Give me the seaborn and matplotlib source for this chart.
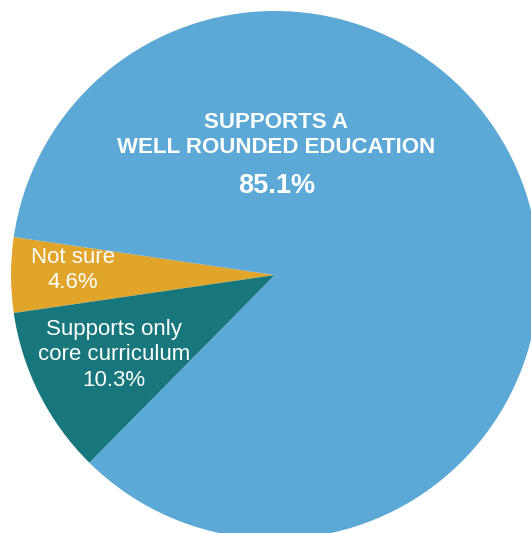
import matplotlib
matplotlib.use("Agg")
import matplotlib.pyplot as plt
import seaborn as sns

sns.set_theme(style="white")
plt.rcParams["font.family"] = ["Liberation Sans", "DejaVu Sans"]

# Survey shares (percent), drawn counter-clockwise from the "Not sure" wedge
categories = ["Not sure", "Supports only\ncore curriculum", "SUPPORTS A\nWELL ROUNDED EDUCATION"]
shares = [4.6, 10.3, 85.1]
colors = ["#E2A52B", "#18777D", "#5CA8D6"]

fig = plt.figure(figsize=(5.31, 5.33), dpi=100)
ax = fig.add_axes([0, 0, 1, 1])

# Center the small wedge on the left horizontal
start = 180 - shares[0] * 3.6 / 2
wedges, _ = ax.pie(shares, colors=colors, startangle=start, counterclock=True,
                   radius=1.0, wedgeprops=dict(linewidth=0))

# Oversized pie: the right and bottom edges run past the canvas
px = 264.0
ax.set_aspect("auto")
ax.set_xlim(-275 / px, (531 - 275) / px)
ax.set_ylim(-(533 - 275) / px, 275 / px)
ax.axis("off")

def to_data(x, y):
    return (x - 275) / px, (275 - y) / px

# Main slice labels
x, y = to_data(276, 135)
ax.text(x, y, categories[2], ha="center", va="center", color="white",
        fontsize=16, fontweight="bold", linespacing=1.27)
x, y = to_data(277, 186)
ax.text(x, y, f"{shares[2]}%", ha="center", va="center", color="white",
        fontsize=19.5, fontweight="bold")

# Small slice labels
x, y = to_data(73, 270)
ax.text(x, y, f"{categories[0]}\n{shares[0]}%", ha="center", va="center",
        color="white", fontsize=16, linespacing=1.22)
x, y = to_data(114, 355)
ax.text(x, y, f"{categories[1]}\n{shares[1]}%", ha="center", va="center",
        color="white", fontsize=16, linespacing=1.3)

fig.savefig("out.png", dpi=100, facecolor="white")
